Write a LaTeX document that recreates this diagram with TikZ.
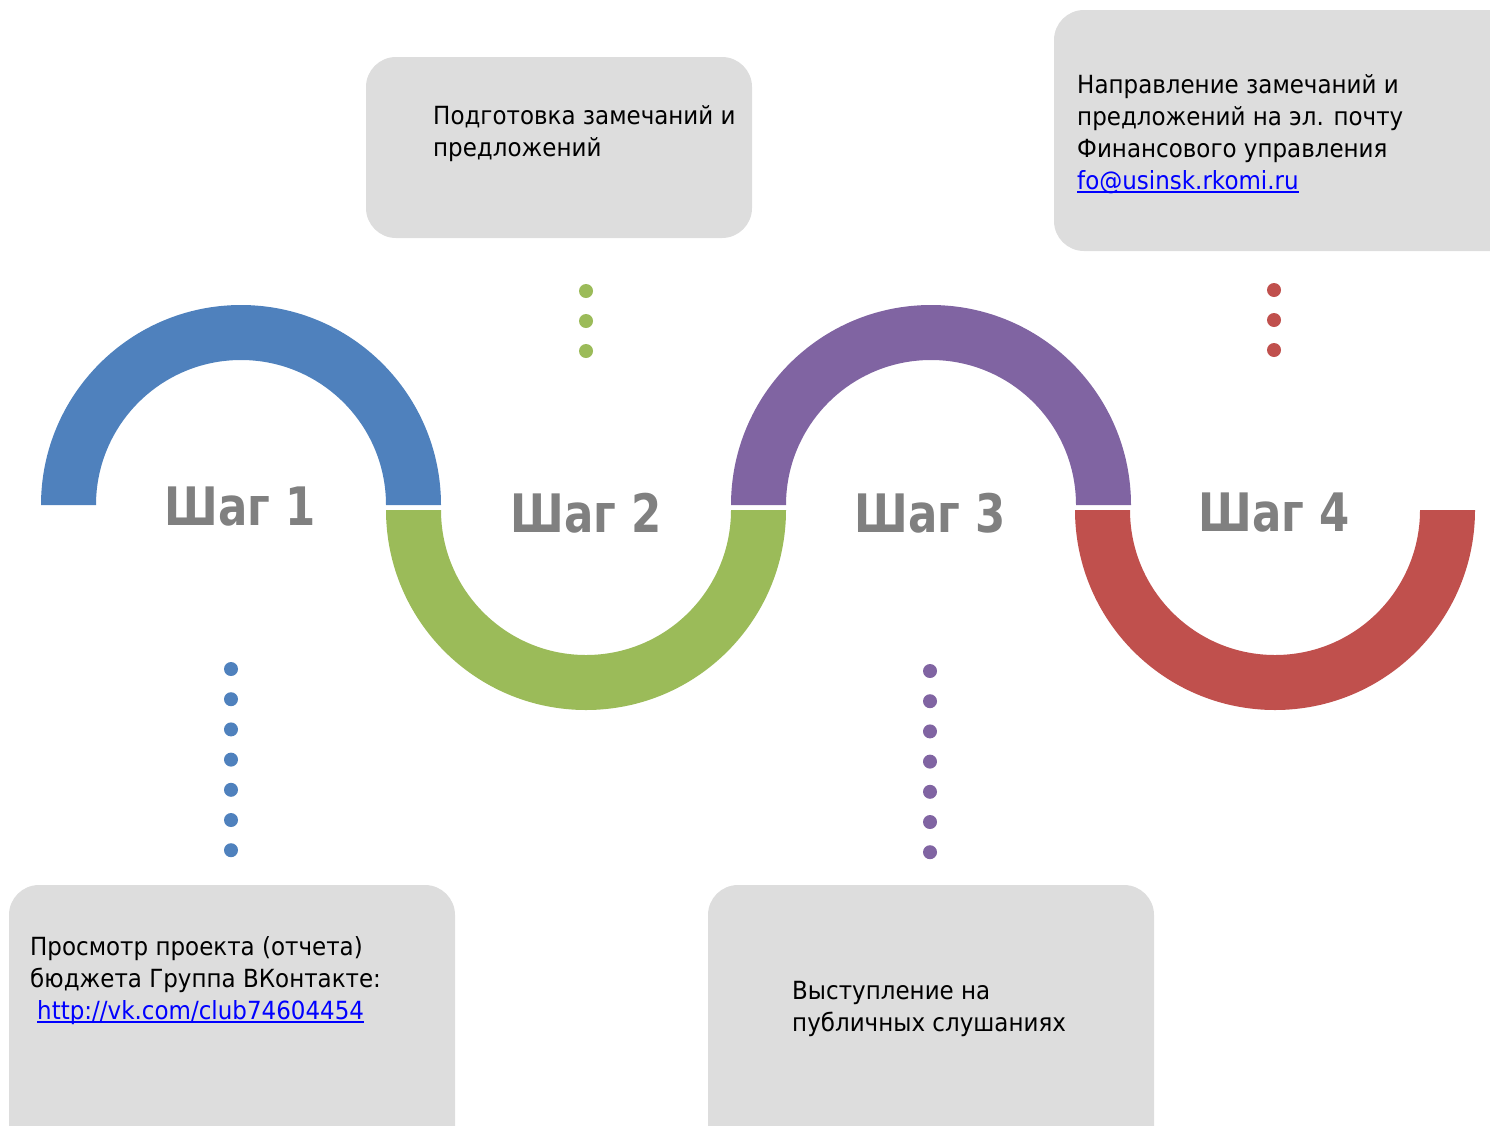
\documentclass[tikz,border=0pt]{standalone}
\usepackage{fontspec}
\setmainfont[FakeStretch=0.92,BoldFeatures={FakeStretch=0.82}]{DejaVu Sans}
\usetikzlibrary{positioning}
\definecolor{stepblue}{RGB}{79,129,189}
\definecolor{stepgreen}{RGB}{155,187,89}
\definecolor{steppurple}{RGB}{128,100,162}
\definecolor{stepred}{RGB}{192,80,77}
\definecolor{boxgray}{RGB}{221,221,221}
\definecolor{labelgray}{RGB}{128,128,128}
\definecolor{linkblue}{RGB}{0,0,255}
\newcommand{\weblink}[1]{{\color{linkblue}\setbox0\hbox{#1}\rlap{\rule[-3.5pt]{\wd0}{1.6pt}}\box0}}
\tikzset{
  notebox/.style={fill=boxgray, draw=none, rounded corners=30pt, inner sep=0pt},
  notetext/.style={anchor=base west, inner sep=0pt, align=left, text=black,
    font=\fontsize{25}{32}\selectfont},
  steplabel/.style={text=labelgray, inner sep=0pt, font=\bfseries\fontsize{53}{60}\selectfont}
}
\begin{document}
\begin{tikzpicture}[x=1pt,y=-1pt]
\useasboundingbox (0,0) rectangle (1490,1125);
\clip (0,0) rectangle (1490,1125);
%
\fill[stepblue] (41,505) arc[start angle=180,end angle=360,radius=200]
  -- (386,505) arc[start angle=360,end angle=180,radius=145] -- cycle;
\fill[stepgreen] (386,510) arc[start angle=180,end angle=0,radius=200]
  -- (731,510) arc[start angle=0,end angle=180,radius=145] -- cycle;
\fill[steppurple] (731,505) arc[start angle=180,end angle=360,radius=200]
  -- (1076,505) arc[start angle=360,end angle=180,radius=145] -- cycle;
\fill[stepred] (1075,510) arc[start angle=180,end angle=0,radius=200]
  -- (1420,510) arc[start angle=0,end angle=180,radius=145] -- cycle;
%
\node[steplabel] (step1) at (240,507) {Шаг 1};
\node[steplabel] (step2) at (586,513) {Шаг 2};
\node[steplabel] (step3) at (930,513) {Шаг 3};
\node[steplabel] (step4) at (1274,513) {Шаг 4};
%
\foreach \k in {0,...,2} {
  \fill[stepgreen] (586,291+30*\k) circle[radius=7];
  \fill[stepred] (1274,290+30*\k) circle[radius=7];
}
\foreach \k in {0,...,6} {
  \fill[stepblue] (231,669+30.2*\k) circle[radius=7];
  \fill[steppurple] (930,671+30.2*\k) circle[radius=7];
}
%
\node[notebox, minimum width=386pt, minimum height=181pt] (box2) at (559,147.5) {};
\node[notebox, minimum width=476pt, minimum height=241pt] (box4) at (1292,130.5) {};
\node[notebox, minimum width=446pt, minimum height=275pt] (box1) at (232,1022.5) {};
\node[notebox, minimum width=446pt, minimum height=275pt] (box3) at (931,1022.5) {};
%
\node[notetext] (text2) at (433,156) {Подготовка замечаний и\\предложений};
\node[notetext] (text4) at (1077,189) {Направление замечаний и\\предложений на эл. почту\\Финансового управления\\\weblink{fo@usinsk.rkomi.ru}};
\node[notetext] (text1) at (30,1019) {Просмотр проекта (отчета)\\бюджета Группа ВКонтакте:\\\hspace*{7pt}\weblink{http://vk.com/club74604454}};
\node[notetext] (text3) at (792,1031) {Выступление на\\публичных слушаниях};
\end{tikzpicture}
\end{document}
